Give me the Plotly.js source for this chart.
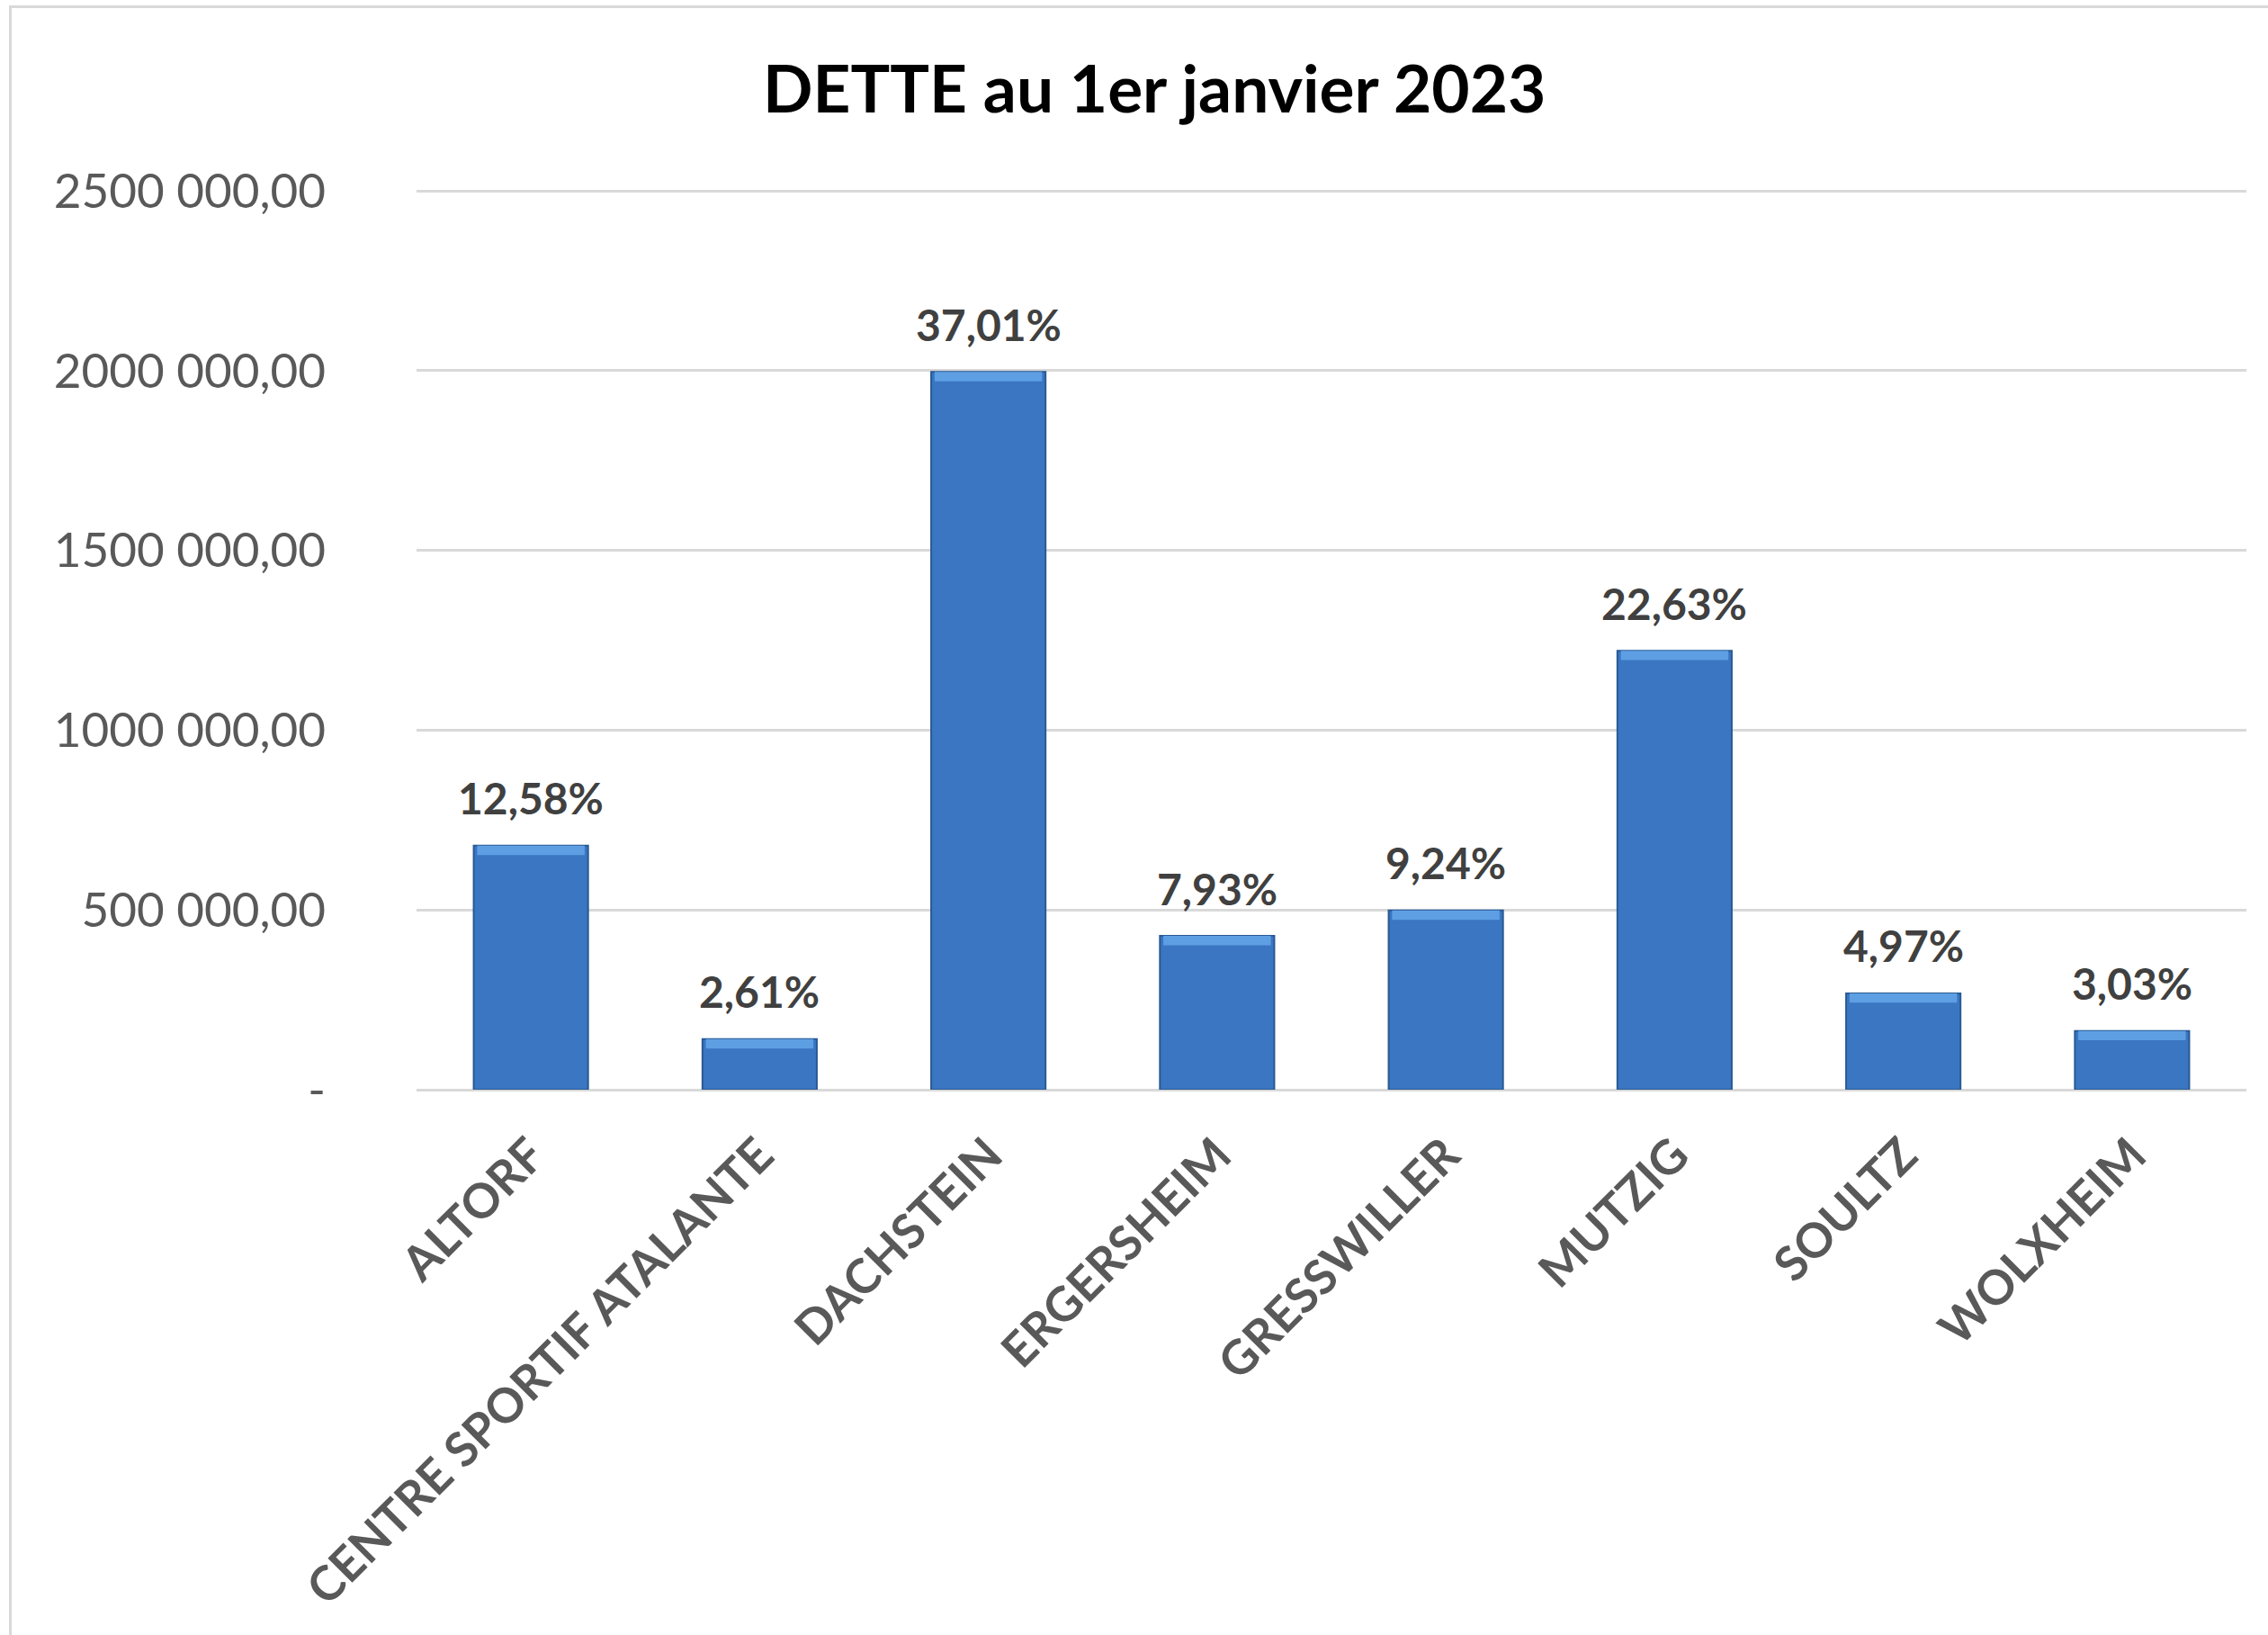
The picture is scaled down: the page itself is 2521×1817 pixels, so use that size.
<!DOCTYPE html>
<html>
<head>
<meta charset="utf-8">
<script src="https://cdn.plot.ly/plotly-3.0.1.min.js"></script>
<style>
  html, body { margin: 0; padding: 0; background: #ffffff; }
  #wrap { position: relative; width: 2521px; height: 1817px; overflow: hidden; }
  #chart { position: absolute; left: 0; top: 0; width: 2521px; height: 1817px; }
  #frame { position: absolute; left: 10px; top: 6px; width: 2540px; height: 1840px;
           border-left: 3px solid #d9d9d9; border-top: 3px solid #d9d9d9; pointer-events: none; }
</style>
</head>
<body>
<div id="wrap">
  <div id="chart"></div>
  <div id="frame"></div>
</div>
<script>
const categories = ["ALTORF", "CENTRE SPORTIF ATALANTE", "DACHSTEIN", "ERGERSHEIM",
                    "GRESSWILLER", "MUTZIG", "SOULTZ", "WOLXHEIM"];
const debtValues = [678700, 140800, 1996700, 427800, 498500, 1220900, 268100, 163500];
const shareLabels = ["12,58%", "2,61%", "37,01%", "7,93%", "9,24%", "22,63%", "4,97%", "3,03%"];
const yTickValues = [0, 500000, 1000000, 1500000, 2000000, 2500000];
const yTickLabels = ["-", "500 000,00", "1000 000,00", "1500 000,00", "2000 000,00", "2500 000,00"];
const chartTitle = "DETTE au 1er janvier 2023";

const FONT = "Lato, 'Open Sans', 'DejaVu Sans', sans-serif";
const CAP = 26000; // height (data units) of the lighter bevel strip on top of each bar

const mainBars = {
  type: "bar",
  x: categories,
  y: debtValues,
  marker: { color: "#3a76c2", line: { color: "#2a5a94", width: 2 } },
  hoverinfo: "x+y"
};

const capBars = {
  type: "bar",
  x: categories,
  y: debtValues.map(() => CAP),
  base: debtValues.map(v => v - CAP),
  width: 0.47,
  marker: { color: "#5e9fe4", line: { width: 0 } },
  hoverinfo: "skip"
};

const annotations = categories.map((c, i) => ({
  x: c, y: debtValues[i], xref: "x", yref: "y",
  text: shareLabels[i], showarrow: false,
  yanchor: "middle", yshift: 53,
  font: { family: FONT, size: 48, color: "#404040", weight: 700 }
}));

const layout = {
  width: 2521, height: 1817,
  paper_bgcolor: "#ffffff", plot_bgcolor: "#ffffff",
  margin: { l: 463, r: 24, t: 211, b: 606, pad: 0 },
  showlegend: false,
  barmode: "overlay",
  bargap: 0.5,
  title: {
    text: chartTitle,
    xref: "container", x: 0.509, xanchor: "center",
    yref: "container", y: 0.945, yanchor: "middle",
    font: { family: FONT, size: 73, color: "#000000", weight: 700 }
  },
  xaxis: {
    type: "category",
    tickangle: -45,
    showline: false, showgrid: false, zeroline: false,
    ticks: "",
    ticklabelstandoff: 30,
    tickfont: { family: FONT, size: 53, color: "#595959", weight: 700 }
  },
  yaxis: {
    range: [0, 2503000],
    tickmode: "array", tickvals: yTickValues, ticktext: yTickLabels,
    showgrid: true, gridcolor: "#d9d9d9", gridwidth: 3,
    zeroline: true, zerolinecolor: "#d9d9d9", zerolinewidth: 3,
    showline: false, ticks: "",
    ticklabelstandoff: 100,
    tickfont: { family: FONT, size: 53, color: "#595959" }
  },
  annotations: annotations
};

Plotly.newPlot("chart", [mainBars, capBars], layout, { staticPlot: true, displayModeBar: false });
</script>
</body>
</html>
